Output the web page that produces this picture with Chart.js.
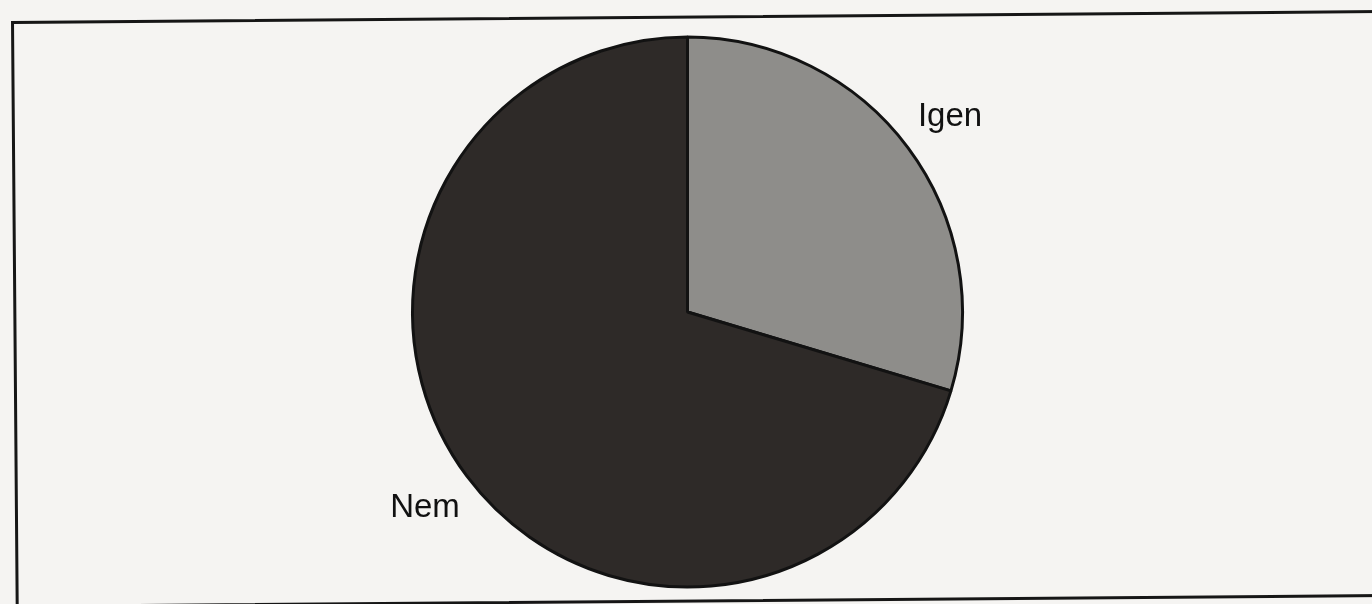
<!DOCTYPE html>
<html>
<head>
<meta charset="utf-8">
<script src="https://cdn.jsdelivr.net/npm/chart.js@4.4.1/dist/chart.umd.min.js"></script>
<style>
  html, body { margin: 0; padding: 0; background: #f5f4f2; overflow: hidden; }
  #frame {
    position: absolute; left: 11px; top: 21px; width: 1364px; height: 581px;
    border: 3px solid #161616; transform: rotate(-0.46deg); transform-origin: 0 0;
  }
  #wrap { position: absolute; left: 0; top: 0; width: 1372px; height: 604px; }
</style>
</head>
<body>
<div id="frame"></div>
<div id="wrap"><canvas id="pieChart"></canvas></div>
<script>
// slice labels and counts (Igen / Nem)
const labels = ['Igen', 'Nem'];
const counts = [24, 57];
const sliceColors = ['#8e8d8a', '#2e2a28'];

// puts each label just outside its slice, on the slice's middle angle
const outsideLabels = {
    id: 'outsideLabels',
    afterDatasetsDraw(chart) {
        const ctx = chart.ctx;
        const arcs = chart.getDatasetMeta(0).data;
        ctx.save();
        ctx.font = '33px "Liberation Sans", Arial, sans-serif';
        ctx.fillStyle = '#111';
        ctx.textAlign = 'center';
        ctx.textBaseline = 'middle';
        arcs.forEach(function(arc, i) {
            const mid = (arc.startAngle + arc.endAngle) / 2;
            const r = arc.outerRadius * 1.19;
            ctx.fillText(labels[i], arc.x + Math.cos(mid) * r, arc.y + Math.sin(mid) * r);
        });
        ctx.restore();
    }
};

new Chart(document.getElementById('pieChart'), {
    type: 'pie',
    data: {
        labels: labels,
        datasets: [{
            data: counts,
            backgroundColor: sliceColors,
            borderColor: '#121212',
            borderWidth: 3
        }]
    },
    options: {
        responsive: true,
        maintainAspectRatio: false,
        animation: false,
        layout: { padding: { left: 411, right: 408, top: 35, bottom: 15 } },
        plugins: {
            legend: { display: false },
            tooltip: { enabled: false }
        }
    },
    plugins: [outsideLabels]
});
</script>
</body>
</html>
